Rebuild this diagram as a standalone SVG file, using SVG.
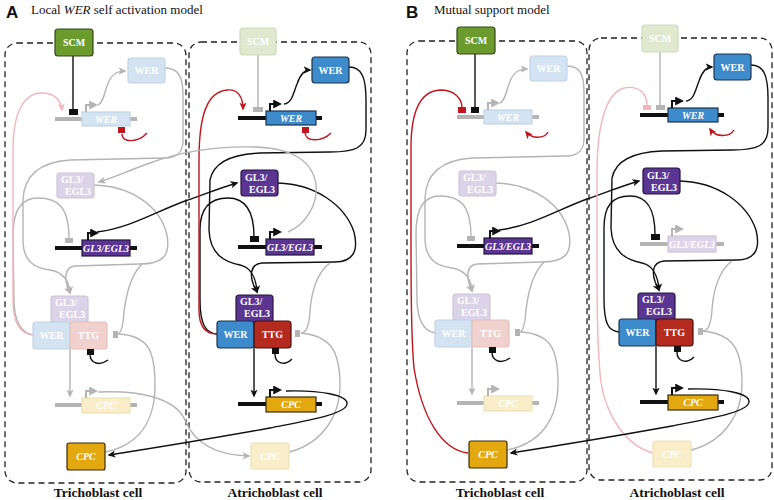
<svg xmlns="http://www.w3.org/2000/svg" width="774" height="500" viewBox="0 0 774 500">
<defs>
<style>
.cell{fill:none;stroke:#222;stroke-width:1.3;stroke-dasharray:6 4}
.t{font-family:"Liberation Serif",serif;font-weight:bold;font-size:10px;fill:#fff}
.ti{font-style:italic}
.c{text-anchor:middle}
.lab{font-family:"Liberation Serif",serif;font-weight:bold;font-size:13.5px;fill:#111;text-anchor:middle}
.ttl{font-family:"Liberation Serif",serif;font-size:13px;fill:#111}
.pl{font-family:"Liberation Sans",sans-serif;font-weight:bold;font-size:17px;fill:#111}
.green{fill:#6c9b2d;stroke:#34471a;stroke-width:1.2}
.pgreen{fill:#e0e8d0;stroke:#cfdbbd;stroke-width:1.2}
.blue{fill:#3d8bcb;stroke:#1d3350;stroke-width:1.2}
.pblue{fill:#d3e3f1;stroke:#c0d4e6;stroke-width:1.2}
.purple{fill:#5b3592;stroke:#261540;stroke-width:1.2}
.ppurple{fill:#dbd3e7;stroke:#cdc3dc;stroke-width:1.2}
.red{fill:#b52a1e;stroke:#46110b;stroke-width:1.2}
.pred{fill:#f0d1cd;stroke:#e3c0bb;stroke-width:1.2}
.gold{fill:#e3a810;stroke:#3a2b06;stroke-width:1.2}
.pgold{fill:#f9eec9;stroke:#efe0b5;stroke-width:1.2}
.ln{fill:none;stroke-width:1.4}
.k{stroke:#111}
.g{stroke:#b4b4b4}
.r{stroke:#c0151d}
.p{stroke:#f2b5ba}
.dna{stroke-width:4;fill:none}
.prom{stroke-width:2;fill:none}
.bk{fill:#111}.bg{fill:#b4b4b4}.br{fill:#c0151d}.bp{fill:#f2b5ba}
</style>
<marker id="ak" viewBox="0 0 10 10" refX="8" refY="5" markerWidth="8" markerHeight="8" markerUnits="userSpaceOnUse" orient="auto"><path d="M0,0.5 L10,5 L0,9.5 L2.5,5 Z" fill="#111"/></marker>
<marker id="ag" viewBox="0 0 10 10" refX="8" refY="5" markerWidth="8" markerHeight="8" markerUnits="userSpaceOnUse" orient="auto"><path d="M0,0.5 L10,5 L0,9.5 L2.5,5 Z" fill="#b4b4b4"/></marker>
<marker id="ar" viewBox="0 0 10 10" refX="8" refY="5" markerWidth="8" markerHeight="8" markerUnits="userSpaceOnUse" orient="auto"><path d="M0,0.5 L10,5 L0,9.5 L2.5,5 Z" fill="#c0151d"/></marker>
<marker id="ap" viewBox="0 0 10 10" refX="8" refY="5" markerWidth="8" markerHeight="8" markerUnits="userSpaceOnUse" orient="auto"><path d="M0,0.5 L10,5 L0,9.5 L2.5,5 Z" fill="#f2b5ba"/></marker>
<marker id="pk" viewBox="0 0 10 10" refX="2" refY="5" markerWidth="9" markerHeight="9" markerUnits="userSpaceOnUse" orient="auto"><path d="M0,0 L10,5 L0,10 Z" fill="#111"/></marker>
<marker id="pg" viewBox="0 0 10 10" refX="2" refY="5" markerWidth="9" markerHeight="9" markerUnits="userSpaceOnUse" orient="auto"><path d="M0,0 L10,5 L0,10 Z" fill="#b4b4b4"/></marker>
</defs>
<rect width="774" height="500" fill="#fff"/>

<!-- titles -->
<text class="pl" x="6" y="18">A</text>
<text class="ttl" x="31" y="14">Local <tspan font-style="italic">WER</tspan> self activation model</text>
<text class="pl" x="406" y="18">B</text>
<text class="ttl" x="434" y="14">Mutual support model</text>
<text class="lab" x="98" y="497">Trichoblast cell</text>
<text class="lab" x="275" y="497">Atrichoblast cell</text>
<text class="lab" x="500" y="497">Trichoblast cell</text>
<text class="lab" x="677" y="497">Atrichoblast cell</text>

<!-- ================= PANEL A ================= -->
<g id="panelA">
<rect class="cell" x="5" y="43" width="181" height="440" rx="12"/>
<rect class="cell" x="189" y="42" width="182" height="440" rx="12"/>

<g id="A_connectors">
 <!-- left cell -->
 <line class="ln k" x1="73" y1="56" x2="73" y2="110"/>
 <path class="ln g" d="M98,105 C104,102 104,92 109,81 C113,73 118,71 125,71" marker-end="url(#ag)"/>
 <path class="ln g" d="M165,68 C178,68 183,76 183,95 L183,140 C183,152 178,158 165,158 L70,160 C40,162 24,175 23,200 L23,240 C23,262 35,268 50,270 C62,272 69,279 70,293" marker-end="url(#ag)"/>
 <path class="ln g" d="M94,185 C130,186 160,205 167,235 C171,258 160,264 140,264 L75,266 C65,267 63,278 70,293" marker-end="url(#ag)"/>
 <path class="ln g" d="M33,335 C22,333 14,322 14,300 L13,235 C13,210 22,198 38,198 C58,198 69,207 69,239"/>
 <path class="ln p" d="M33,335 C20,334 13,322 13,300 L13,150 C13,110 25,93 42,93 C55,93 61,101 62,110" marker-end="url(#ap)"/>
 <path class="ln r" d="M122,134 C122,143 138,143 147,133"/>
 <path class="ln k" d="M97,232 C130,228 155,212 185,201 C205,194 220,188 237,183" marker-end="url(#ak)"/>
 <line class="ln g" x1="70" y1="349" x2="70" y2="396" marker-end="url(#ag)"/>
 <path class="ln k" d="M90,354 C90,364 100,366 108,360"/>
 <path class="ln g" d="M105,452 C140,445 155,420 155,385 C155,350 148,336 119,334"/>
 <path class="ln g" d="M142,264 C130,276 126,295 124,312 C123,327 121,333 118,334"/>
 <path class="ln g" d="M98,392 C140,390 175,398 185,420 C193,440 212,455 249,456" marker-end="url(#ag)"/>
 <!-- right cell -->
 <line class="ln g" x1="258" y1="55" x2="258" y2="108"/>
 <path class="ln k" d="M217,334 C206,333 200,325 200,300 L200,230 C200,208 210,198 228,198 C246,198 254,212 254,237"/>
 <path class="ln r" d="M217,334 C205,334 199,326 199,310 L199,160 C199,115 207,92 227,90 C238,89 243,97 243,109" marker-end="url(#ar)"/>
 <path class="ln r" d="M305,133 C306,142 322,142 331,133"/>
 <path class="ln k" d="M284,104 C292,103 293,94 297,84 C300,75 304,70 310,70" marker-end="url(#ak)"/>
 <path class="ln k" d="M349,67 C362,67 366,78 366,100 L366,130 C366,148 355,152 330,152 L260,153 C235,154 214,160 210,180 L209,230 C210,255 225,262 240,265 C250,267 256,277 257,292" marker-end="url(#ak)"/>
 <path class="ln k" d="M278,183 C315,184 345,205 354,232 C359,252 352,262 335,262 L262,263 C250,264 248,276 257,292" marker-end="url(#ak)"/>
 <path class="ln g" d="M288,232 C305,225 318,205 316,185 C313,160 290,148 255,147 C215,146 180,152 150,163 C130,170 115,177 99,182" marker-end="url(#ag)"/>
 <line class="ln k" x1="254" y1="348" x2="254" y2="396" marker-end="url(#ak)"/>
 <path class="ln k" d="M275,354 C275,364 285,366 292,359"/>
 <path class="ln g" d="M289,452 C318,445 340,420 340,385 C340,350 330,336 301,333"/>
 <path class="ln g" d="M330,263 C316,273 311,295 310,312 C309,327 306,333 301,333"/>
 <path class="ln k" d="M286,391 C320,390 348,395 347,404 C346,414 310,420 270,428 C220,437 160,447 109,455" marker-end="url(#ak)"/>
</g>

<g id="A_SCM_tri"><rect class="green" x="55" y="29" width="38" height="27" rx="3"/><text class="t c" x="74" y="46">SCM</text></g>
<g id="A_SCM_bar_tri"><rect class="bk" x="69" y="109" width="9" height="6"/></g>
<g id="A_WERgene_tri">
 <line class="dna g" x1="55" y1="119" x2="137" y2="119"/>
 <rect class="pblue" x="82" y="112" width="48" height="14"/>
 <text class="t ti c" x="106" y="123">WER</text>
 <path class="prom g" d="M86,112 V105 H91" marker-end="url(#pg)"/>
 <rect class="br" x="118" y="127" width="7" height="6"/>
</g>
<g id="A_WER_tri"><rect class="pblue" x="128" y="58" width="37" height="25" rx="3"/><text class="t c" x="146.5" y="74">WER</text></g>
<g id="A_GL3_tri"><rect class="ppurple" x="57" y="173" width="37" height="25" rx="3"/><text class="t" x="61" y="183">GL3/</text><text class="t" x="65" y="195">EGL3</text></g>
<g id="A_GL3gene_tri">
 <line class="dna k" x1="55" y1="248" x2="137" y2="248"/>
 <rect class="purple" x="82" y="240" width="48" height="16"/>
 <text class="t ti c" x="106" y="252">GL3/EGL3</text>
 <path class="prom k" d="M88,240 V233 H92" marker-end="url(#pk)"/>
 <rect class="bg" x="65" y="238" width="8" height="5"/>
</g>
<g id="A_complex_tri">
 <rect class="ppurple" x="51" y="296" width="37" height="27" rx="3"/><text class="t" x="55" y="306">GL3/</text><text class="t" x="59" y="318">EGL3</text>
 <rect class="pblue" x="33" y="322" width="37" height="27" rx="3"/><text class="t c" x="51.5" y="339">WER</text>
 <rect class="pred" x="70" y="322" width="37" height="27" rx="3"/><text class="t c" x="88.5" y="339">TTG</text>
 <rect class="bk" x="87" y="349" width="7" height="6"/>
 <rect class="bg" x="113" y="331" width="5" height="7"/>
</g>
<g id="A_CPCgene_tri">
 <line class="dna g" x1="55" y1="405" x2="137" y2="405"/>
 <rect class="pgold" x="82" y="398" width="48" height="15"/>
 <text class="t ti c" x="106" y="409">CPC</text>
 <path class="prom g" d="M86,398 V391 H91" marker-end="url(#pg)"/>
</g>
<g id="A_CPC_tri"><rect class="gold" x="67" y="443" width="38" height="27" rx="2"/><text class="t ti c" x="86" y="460">CPC</text></g>

<g id="A_SCM_atri"><rect class="pgreen" x="240" y="28" width="36" height="27" rx="3"/><text class="t c" x="258" y="45">SCM</text></g>
<g id="A_WERgene_atri">
 <line class="dna k" x1="238" y1="118" x2="322" y2="118"/>
 <rect class="blue" x="266" y="111" width="50" height="14"/>
 <text class="t ti c" x="291" y="122">WER</text>
 <path class="prom k" d="M270,111 V104 H275" marker-end="url(#pk)"/>
 <rect class="bg" x="253" y="107" width="10" height="5"/>
 <rect class="br" x="302" y="127" width="7" height="6"/>
</g>
<g id="A_WER_atri"><rect class="blue" x="312" y="57" width="37" height="26" rx="3"/><text class="t c" x="330.5" y="73.5">WER</text></g>
<g id="A_GL3_atri"><rect class="purple" x="241" y="170" width="37" height="26" rx="3"/><text class="t" x="245" y="181">GL3/</text><text class="t" x="249" y="193">EGL3</text></g>
<g id="A_GL3gene_atri">
 <line class="dna k" x1="238" y1="247" x2="322" y2="247"/>
 <rect class="purple" x="266" y="239" width="48" height="16"/>
 <text class="t ti c" x="290" y="251">GL3/EGL3</text>
 <path class="prom k" d="M270,239 V232 H275" marker-end="url(#pk)"/>
 <rect class="bk" x="250" y="236" width="9" height="6"/>
</g>
<g id="A_complex_atri">
 <rect class="purple" x="236" y="295" width="37" height="27" rx="3"/><text class="t" x="240" y="305">GL3/</text><text class="t" x="244" y="317">EGL3</text>
 <rect class="blue" x="217" y="321" width="37" height="27" rx="3"/><text class="t c" x="235.5" y="338">WER</text>
 <rect class="red" x="254" y="321" width="37" height="27" rx="3"/><text class="t c" x="272.5" y="338">TTG</text>
 <rect class="bk" x="272" y="348" width="7" height="6"/>
 <rect class="bg" x="295" y="330" width="5" height="7"/>
</g>
<g id="A_CPCgene_atri">
 <line class="dna k" x1="238" y1="404" x2="322" y2="404"/>
 <rect class="gold" x="266" y="397" width="50" height="15"/>
 <text class="t ti c" x="291" y="408">CPC</text>
 <path class="prom k" d="M270,397 V390 H275" marker-end="url(#pk)"/>
</g>
<g id="A_CPC_atri"><rect class="pgold" x="251" y="443" width="38" height="26" rx="2"/><text class="t ti c" x="270" y="460">CPC</text></g>
</g>

<!-- ================= PANEL B ================= -->
<g id="panelB" transform="translate(402,-2)">
<rect class="cell" x="5" y="43" width="180" height="441" rx="12"/>
<rect class="cell" x="187" y="40" width="183" height="442" rx="12"/>

<g id="B_connectors">
 <line class="ln k" x1="73" y1="56" x2="73" y2="110"/>
 <path class="ln r" d="M66,455 C40,452 20,420 12,370 C9,340 9,300 9,250 L9,150 C9,110 20,93 38,92 C52,92 60,100 60,110"/>
 <path class="ln r" d="M146,134 C142,141 130,141 124,134" marker-end="url(#ar)"/>
 <path class="ln g" d="M98,105 C104,102 104,92 109,81 C113,73 118,71 125,71" marker-end="url(#ag)"/>
 <path class="ln g" d="M165,68 C178,68 182,76 182,95 L182,140 C182,152 177,158 164,158 L70,160 C40,162 24,175 23,200 L23,240 C23,262 35,268 50,270 C62,272 69,279 70,293" marker-end="url(#ag)"/>
 <path class="ln g" d="M94,185 C130,186 160,205 167,235 C171,258 160,264 140,264 L75,266 C65,267 63,278 70,293" marker-end="url(#ag)"/>
 <path class="ln g" d="M33,335 C22,333 15,322 15,300 L14,235 C14,210 22,198 38,198 C58,198 69,207 69,239"/>
 <path class="ln k" d="M97,232 C130,228 155,212 185,201 C205,194 220,188 237,183" marker-end="url(#ak)"/>
 <line class="ln g" x1="70" y1="349" x2="70" y2="396" marker-end="url(#ag)"/>
 <path class="ln k" d="M90,354 C90,364 100,366 108,360"/>
 <path class="ln g" d="M105,452 C140,445 156,420 156,385 C156,350 148,336 119,334"/>
 <path class="ln g" d="M142,264 C130,276 126,295 124,312 C123,327 121,333 118,334"/>

 <line class="ln g" x1="258" y1="54" x2="258" y2="107"/>
 <path class="ln p" d="M251,455 C225,448 205,420 199,385 C195,350 195,300 195,250 L195,175 C195,130 203,95 222,90 C237,87 245,96 245,107"/>
 <path class="ln k" d="M217,334 C206,333 202,325 202,300 L202,230 C202,208 210,198 228,198 C246,198 253,212 253,237"/>
 <path class="ln r" d="M332,132 C328,139 314,140 308,131" marker-end="url(#ar)"/>
 <path class="ln k" d="M284,103 C292,102 293,93 297,83 C300,74 304,69 310,69" marker-end="url(#ak)"/>
 <path class="ln k" d="M349,67 C362,67 366,78 366,100 L366,130 C366,148 355,152 330,152 L260,153 C235,154 214,160 210,180 L209,230 C210,255 225,262 240,265 C250,267 256,277 257,292" marker-end="url(#ak)"/>
 <path class="ln k" d="M278,183 C315,184 345,205 354,232 C359,252 352,262 335,262 L262,263 C250,264 248,276 257,292" marker-end="url(#ak)"/>
 <line class="ln k" x1="254" y1="348" x2="254" y2="396" marker-end="url(#ak)"/>
 <path class="ln k" d="M275,354 C275,364 285,366 292,359"/>
 <path class="ln g" d="M289,452 C318,445 340,420 340,385 C340,350 330,336 301,333"/>
 <path class="ln g" d="M330,263 C316,273 311,295 310,312 C309,327 306,333 301,333"/>
 <path class="ln k" d="M286,391 C320,390 348,395 347,404 C346,414 310,420 270,428 C220,437 160,447 109,455" marker-end="url(#ak)"/>
</g>

<g id="B_SCM_tri"><rect class="green" x="55" y="29" width="38" height="27" rx="3"/><text class="t c" x="74" y="46">SCM</text></g>
<g id="B_WERgene_tri">
 <line class="dna g" x1="55" y1="119" x2="137" y2="119"/>
 <rect class="pblue" x="82" y="112" width="48" height="14"/>
 <text class="t ti c" x="106" y="123">WER</text>
 <path class="prom g" d="M86,112 V105 H91" marker-end="url(#pg)"/>
 <rect class="br" x="56" y="109" width="8" height="6"/>
 <rect class="bk" x="69" y="109" width="8" height="6"/>
</g>
<g id="B_WER_tri"><rect class="pblue" x="128" y="58" width="37" height="25" rx="3"/><text class="t c" x="146.5" y="74">WER</text></g>
<g id="B_GL3_tri"><rect class="ppurple" x="57" y="173" width="37" height="25" rx="3"/><text class="t" x="61" y="183">GL3/</text><text class="t" x="65" y="195">EGL3</text></g>
<g id="B_GL3gene_tri">
 <line class="dna k" x1="55" y1="248" x2="137" y2="248"/>
 <rect class="purple" x="82" y="240" width="48" height="16"/>
 <text class="t ti c" x="106" y="252">GL3/EGL3</text>
 <path class="prom k" d="M88,240 V233 H92" marker-end="url(#pk)"/>
 <rect class="bg" x="65" y="238" width="8" height="5"/>
</g>
<g id="B_complex_tri">
 <rect class="ppurple" x="51" y="296" width="37" height="27" rx="3"/><text class="t" x="55" y="306">GL3/</text><text class="t" x="59" y="318">EGL3</text>
 <rect class="pblue" x="33" y="322" width="37" height="27" rx="3"/><text class="t c" x="51.5" y="339">WER</text>
 <rect class="pred" x="70" y="322" width="37" height="27" rx="3"/><text class="t c" x="88.5" y="339">TTG</text>
 <rect class="bk" x="87" y="349" width="7" height="6"/>
 <rect class="bg" x="113" y="331" width="5" height="7"/>
</g>
<g id="B_CPCgene_tri">
 <line class="dna g" x1="55" y1="405" x2="137" y2="405"/>
 <rect class="pgold" x="82" y="398" width="48" height="15"/>
 <text class="t ti c" x="106" y="409">CPC</text>
 <path class="prom g" d="M86,398 V391 H91" marker-end="url(#pg)"/>
</g>
<g id="B_CPC_tri"><rect class="gold" x="67" y="443" width="38" height="27" rx="2"/><text class="t ti c" x="86" y="460">CPC</text></g>

<g id="B_SCM_atri"><rect class="pgreen" x="240" y="27" width="36" height="27" rx="3"/><text class="t c" x="258" y="44">SCM</text></g>
<g id="B_WERgene_atri">
 <line class="dna k" x1="238" y1="117" x2="322" y2="117"/>
 <rect class="blue" x="266" y="110" width="50" height="14"/>
 <text class="t ti c" x="291" y="121">WER</text>
 <path class="prom k" d="M270,110 V103 H275" marker-end="url(#pk)"/>
 <rect class="bp" x="241" y="107" width="8" height="5"/>
 <rect class="bg" x="254" y="107" width="9" height="5"/>
</g>
<g id="B_WER_atri"><rect class="blue" x="312" y="56" width="37" height="26" rx="3"/><text class="t c" x="330.5" y="72.5">WER</text></g>
<g id="B_GL3_atri"><rect class="purple" x="241" y="170" width="37" height="26" rx="3"/><text class="t" x="245" y="181">GL3/</text><text class="t" x="249" y="193">EGL3</text></g>
<g id="B_GL3gene_atri">
 <line class="dna g" x1="238" y1="246" x2="322" y2="246"/>
 <rect class="ppurple" x="266" y="238" width="48" height="16"/>
 <text class="t ti c" x="290" y="250">GL3/EGL3</text>
 <path class="prom g" d="M270,238 V231 H275" marker-end="url(#pg)"/>
 <rect class="bk" x="249" y="236" width="9" height="6"/>
</g>
<g id="B_complex_atri">
 <rect class="purple" x="236" y="295" width="37" height="27" rx="3"/><text class="t" x="240" y="305">GL3/</text><text class="t" x="244" y="317">EGL3</text>
 <rect class="blue" x="217" y="321" width="37" height="27" rx="3"/><text class="t c" x="235.5" y="338">WER</text>
 <rect class="red" x="254" y="321" width="37" height="27" rx="3"/><text class="t c" x="272.5" y="338">TTG</text>
 <rect class="bk" x="272" y="348" width="7" height="6"/>
 <rect class="bg" x="296" y="330" width="5" height="7"/>
</g>
<g id="B_CPCgene_atri">
 <line class="dna k" x1="238" y1="404" x2="322" y2="404"/>
 <rect class="gold" x="266" y="397" width="50" height="15"/>
 <text class="t ti c" x="291" y="408">CPC</text>
 <path class="prom k" d="M270,397 V390 H275" marker-end="url(#pk)"/>
</g>
<g id="B_CPC_atri"><rect class="pgold" x="251" y="443" width="38" height="26" rx="2"/><text class="t ti c" x="270" y="460">CPC</text></g>
</g>
</svg>
